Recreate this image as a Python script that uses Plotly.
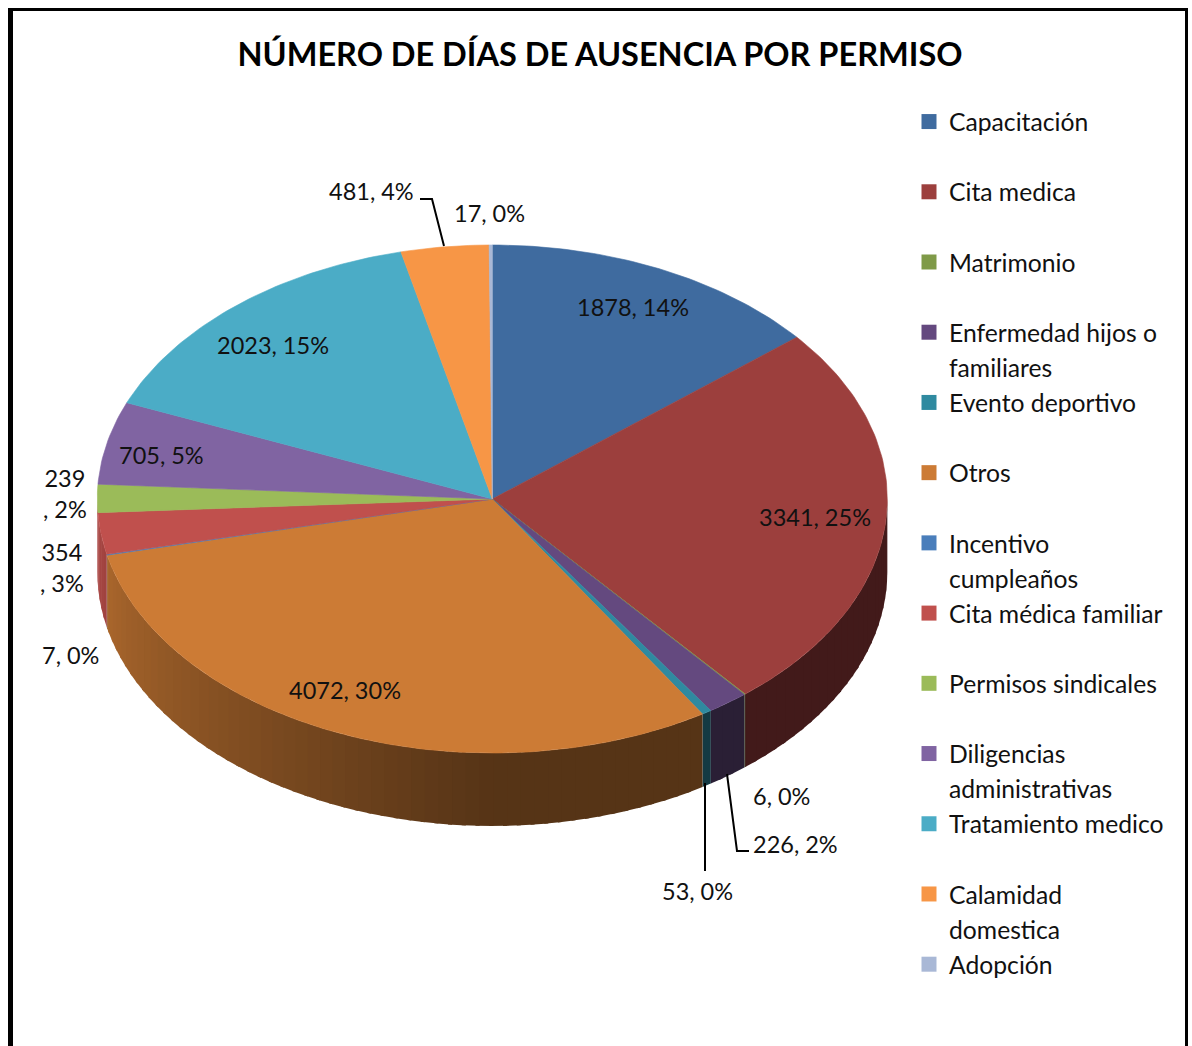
import math
import plotly.graph_objects as go

categories = ["Capacitación", "Cita medica", "Matrimonio", "Enfermedad hijos o familiares",
              "Evento deportivo", "Otros", "Incentivo cumpleaños", "Cita médica familiar",
              "Permisos sindicales", "Diligencias administrativas", "Tratamiento medico",
              "Calamidad domestica", "Adopción"]
legend_first = ["Capacitación", "Cita medica", "Matrimonio", "Enfermedad hijos o",
                "Evento deportivo", "Otros", "Incentivo", "Cita médica familiar",
                "Permisos sindicales", "Diligencias", "Tratamiento medico",
                "Calamidad", "Adopción"]
legend_second = ["", "", "", "familiares", "", "", "cumpleaños", "", "", "administrativas", "",
                 "domestica", ""]
values = [1878, 3341, 6, 226, 53, 4072, 7, 354, 239, 705, 2023, 481, 17]
colors = ["#3f6b9f", "#9c3f3d", "#7f9a48", "#64497f", "#2f8aa0", "#cc7b35", "#4a7ebb",
          "#c0504d", "#9bbb59", "#8064a2", "#4bacc6", "#f79646", "#a9b8d6"]
title_text = "NÚMERO DE DÍAS DE AUSENCIA POR PERMISO"

# Pie geometry (pixel-like axis units)
CX, CY, RX, RY, DEPTH = 492.3, 499, 395, 254, 73
W, H = 1192, 1046
FONT = "Lato"
total = sum(values)


def pt(a, dy=0):
    r = math.radians(a)
    return CX + RX * math.sin(r), CY - RY * math.cos(r) + dy


def shade(hex_color, f):
    rgb = [int(hex_color[i:i + 2], 16) for i in (1, 3, 5)]
    return "rgb(%d,%d,%d)" % tuple(round(c * f) for c in rgb)


def side_factor(a):
    if a <= 180:
        return 0.42
    return 0.42 + (a - 180) / 77 * 0.41


fig = go.Figure()
bounds = []
a0 = 0
for v in values:
    a1 = a0 + v / total * 360
    bounds.append((a0, a1))
    a0 = a1

# extruded side, in small overlapping strips so it can be shaded by angle
for (a0, a1), col, name in zip(bounds, colors, categories):
    if name == "Permisos sindicales":
        continue  # its sliver of side is hidden in the reference
    end = 270 if name == "Cita médica familiar" else a1
    s0, s1 = max(a0, 90), min(end, 270)
    a = s0
    while a < s1:
        b = min(a + 2, s1)
        e = min(b + 0.6, s1)
        m = (a + e) / 2
        p = [pt(a), pt(m), pt(e), pt(e, DEPTH), pt(m, DEPTH), pt(a, DEPTH), pt(a)]
        c = shade(col, side_factor((a + b) / 2))
        fig.add_trace(go.Scatter(x=[q[0] for q in p], y=[q[1] for q in p], mode="lines", fill="toself",
                                 fillcolor=c, line=dict(color=c, width=0), hoverinfo="skip", showlegend=False))
        a = b

# top face
for (a0, a1), col, name, v in zip(bounds, colors, categories, values):
    n = max(2, int((a1 - a0) / 1) + 2)
    arc = [pt(a0 + (a1 - a0) * i / (n - 1)) for i in range(n)]
    p = [(CX, CY)] + arc + [(CX, CY)]
    fig.add_trace(go.Scatter(x=[q[0] for q in p], y=[q[1] for q in p], mode="lines", fill="toself",
                             fillcolor=col, line=dict(color=col, width=0.6),
                             name=name, text=f"{v}", hoverinfo="name+text", showlegend=False))

# legend: every entry is a group of two rows, so the swatch sits on the first text line
for i, (first, second, col) in enumerate(zip(legend_first, legend_second, colors)):
    fig.add_trace(go.Scatter(x=[None], y=[None], mode="markers", name=first, legendgroup=f"g{i}",
                             marker=dict(symbol="square", size=15, color=col)))
    fig.add_trace(go.Scatter(x=[None], y=[None], mode="markers", name=second or "&nbsp;", legendgroup=f"g{i}",
                             marker=dict(symbol="square", size=15, color="rgba(0,0,0,0)")))

# data labels
label_pos = [(633, 307), (815, 517), (781, 796), (795, 844), (697, 891), (345, 690), (70, 655),
             (62, 567), (65, 493), (161, 455), (273, 345), (371, 191), (489, 213)]
for v, (x, y) in zip(values, label_pos):
    pct = round(v / total * 100)
    txt = f"{v}, {pct}%" if v not in (239, 354) else f"{v}<br>, {pct}%"
    fig.add_annotation(x=x, y=y, text=txt, showarrow=False, xref="x", yref="y",
                       font=dict(family=FONT, size=23.5, color="#111111"))

# leader lines
for xs, ys in [((420, 432, 444), (199, 199, 246)),
               ((749, 737, 727), (851, 851, 774)),
               ((705, 705), (783, 871))]:
    fig.add_trace(go.Scatter(x=xs, y=ys, mode="lines", line=dict(color="black", width=2),
                             hoverinfo="skip", showlegend=False))

frame = [dict(x0=10.5, x1=10.5, y0=8, y1=H, width=5),
         dict(x0=8, x1=1188, y0=9.5, y1=9.5, width=3),
         dict(x0=1186.5, x1=1186.5, y0=8, y1=H, width=3)]

fig.update_layout(
    width=W, height=H, margin=dict(l=0, r=0, t=0, b=0),
    paper_bgcolor="white", plot_bgcolor="white",
    xaxis=dict(range=[0, W], visible=False, fixedrange=True),
    yaxis=dict(range=[H, 0], visible=False, fixedrange=True),
    title=dict(text=f"<b>{title_text}</b>", x=600 / W, xanchor="center", y=1 - 55 / H, yanchor="middle",
               font=dict(family=FONT, size=32.5, color="black")),
    legend=dict(x=909 / W, xanchor="left", y=1 - 99 / H, yanchor="top", tracegroupgap=0,
                bgcolor="rgba(0,0,0,0)", font=dict(family=FONT, size=24.7, color="#111111")),
    shapes=[dict(type="line", xref="x", yref="y", x0=f["x0"], x1=f["x1"], y0=f["y0"], y1=f["y1"],
                 line=dict(color="black", width=f["width"])) for f in frame],
)
fig.write_html("out.html", config={"displayModeBar": False},
               post_script="document.body.style.margin='0';document.body.style.overflow='hidden';")
